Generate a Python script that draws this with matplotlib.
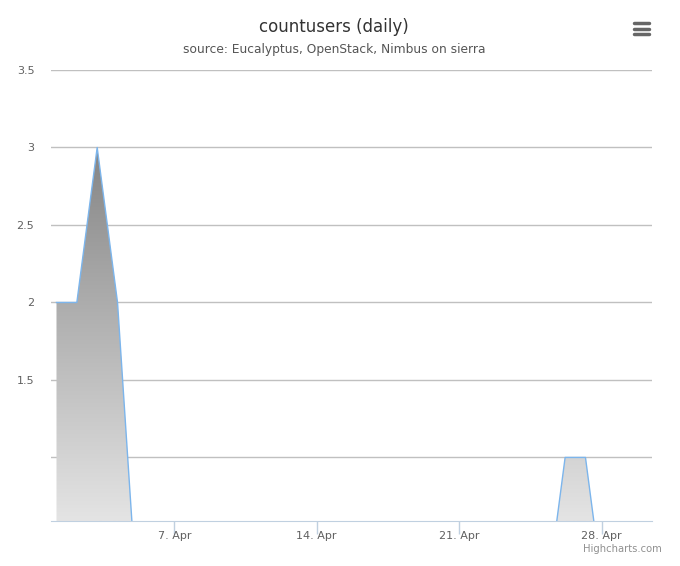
import matplotlib
matplotlib.use('Agg')
import matplotlib.pyplot as plt
import matplotlib.dates as mdates
from matplotlib.lines import Line2D
import numpy as np
from datetime import datetime, timedelta

# daily values, 1..30 April (points sit at 05:00 local)
start = datetime(2015, 4, 1, 5, 0)
counts = [2, 2, 3, 2, 0, 0, 0, 0, 0, 0,
          0, 0, 0, 0, 0, 0, 0, 0, 0, 0,
          0, 0, 0, 0, 0, 1, 1, 0, 0, 0]
days = [start + timedelta(days=i) for i in range(len(counts))]

y_ticks = [1, 1.5, 2, 2.5, 3, 3.5]
y_labels = ['', '1.5', '2', '2.5', '3', '3.5']
x_ticks = [datetime(2015, 4, 7), datetime(2015, 4, 14), datetime(2015, 4, 21), datetime(2015, 4, 28)]
x_labels = ['7. Apr', '14. Apr', '21. Apr', '28. Apr']

fig = plt.figure(figsize=(6.8, 5.66), dpi=100)
ax = fig.add_axes([51 / 680, 1 - 521 / 566, 601 / 680, 451 / 566])

x = mdates.date2num(days)
y = np.array(counts, dtype=float)
pad = 0.27
ymin, ymax = 0.59, 3.5

# grey gradient fill, dark at the top of the series, light at the bottom
poly = ax.fill_between(x, y, ymin - 1, color='none', lw=0)
grad = np.linspace(228, 133, 256)[:, None] / 255.0
grad = np.dstack([grad, grad, grad])
img = ax.imshow(grad, extent=[x[0], x[-1], ymin, 3.0], origin='lower',
                aspect='auto', zorder=2)
img.set_clip_path(poly.get_paths()[0], transform=ax.transData)
ax.set_xlim(x[0] - pad, x[-1] + pad)
ax.set_ylim(ymin, ymax)

ax.plot(x, y, color='#7cb5ec', lw=1, zorder=3)

ax.set_yticks(y_ticks)
ax.set_yticklabels(y_labels)
ax.set_xticks(mdates.date2num(x_ticks))
ax.set_xticklabels(x_labels)
ax.grid(axis='y', color='#c0c0c0', lw=1)
ax.set_axisbelow(True)
for s in ['top', 'right', 'left']:
    ax.spines[s].set_visible(False)
ax.spines['bottom'].set_color('#c0d0e0')
ax.spines['bottom'].set_zorder(4)
ax.tick_params(axis='y', length=0, pad=12, labelsize=8, labelcolor='#606060')
ax.tick_params(axis='x', length=9, width=1, color='#c0d0e0', pad=-2,
               labelsize=8, labelcolor='#606060')

fig.text(334 / 680, 1 - 27 / 566, 'countusers (daily)', ha='center', va='center',
         fontsize=12, color='#333333')
fig.text(334 / 680, 1 - 50 / 566, 'source: Eucalyptus, OpenStack, Nimbus on sierra',
         ha='center', va='center', fontsize=8.8, color='#555555')
fig.text(662 / 680, 1 - 549 / 566, 'Highcharts.com', ha='right', va='center',
         fontsize=7.2, color='#909090')

# menu icon
for yy in (23, 29, 34):
    fig.add_artist(Line2D([634 / 680, 649 / 680], [1 - yy / 566, 1 - yy / 566],
                          color='#666666', lw=2.5, solid_capstyle='round'))

fig.savefig('out.png', dpi=100)
